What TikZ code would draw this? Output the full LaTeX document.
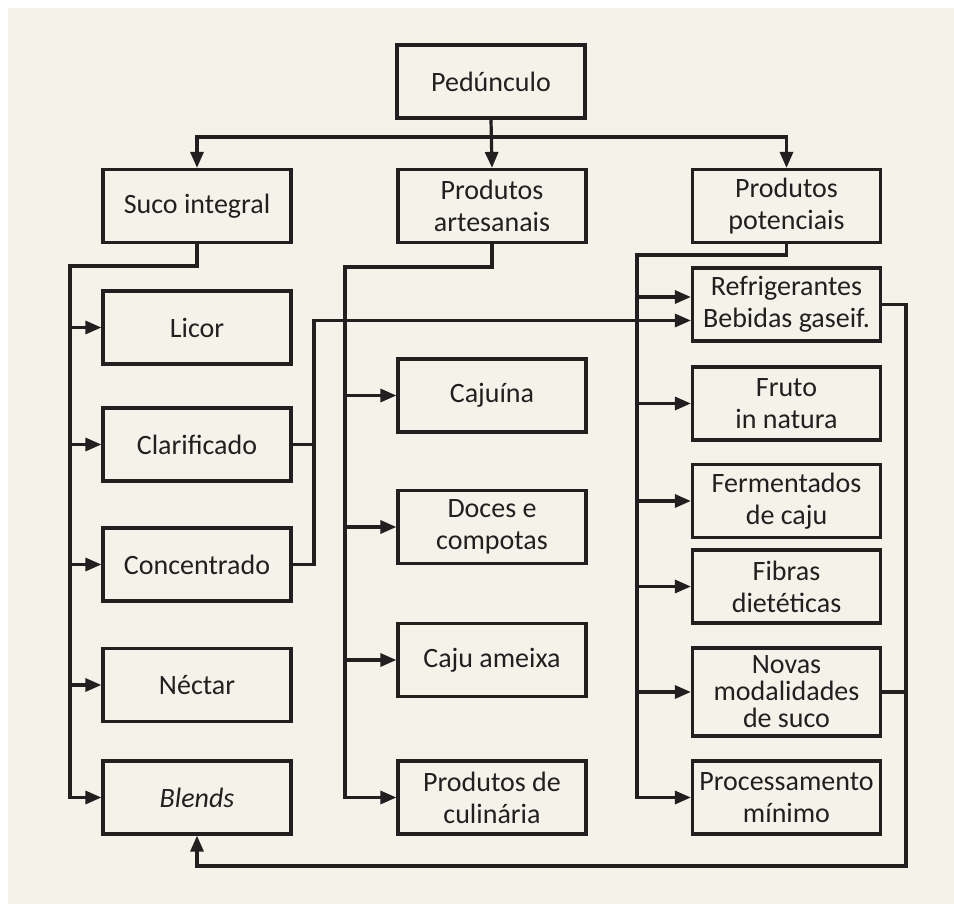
\documentclass[tikz,border=0pt]{standalone}
\usepackage{fontspec}
\setmainfont{Carlito}
\usetikzlibrary{arrows.meta,calc}
\definecolor{bg}{HTML}{F5F2EA}
\definecolor{ink}{HTML}{231F20}
\begin{document}
\begin{tikzpicture}[x=1pt,y=-1pt,
  box/.style={draw=ink,line width=3.2pt,fill=bg,minimum width=188pt,minimum height=73pt,inner sep=0pt,align=center,text=ink,font=\fontsize{28}{32}\selectfont},
  ln/.style={draw=ink,line width=3.2pt},
  arr/.style={ln,-{Triangle[length=16pt,width=13pt]}}]
\useasboundingbox (0,0) rectangle (954,904);
\fill[white] (0,0) rectangle (954,904);
\fill[bg] (8,8) rectangle (954,904);
% top
\node[box] (ped) at (491,81.5) {Pedúnculo};
\node[box] (suco) at (197,206) {Suco integral};
\node[box] (artes) at (492,206) {Produtos\\artesanais};
\node[box] (pot) at (786.5,206) {Produtos\\potenciais};
% left column
\node[box] (licor) at (197,327.5) {Licor};
\node[box] (clar) at (197,444.5) {Clarificado};
\node[box] (conc) at (197,564.5) {Concentrado};
\node[box] (nect) at (197,685) {Néctar};
\node[box] (blends) at (197,797.5) {\itshape Blends};
% middle column
\node[box] (caju) at (492,395.5) {Cajuína};
\node[box] (doces) at (492,527) {Doces e\\compotas};
\node[box] (ameixa) at (492,660) {Caju ameixa};
\node[box] (culin) at (492,797.5) {Produtos de\\culinária};
% right column
\node[box] (refr) at (786.5,304.5) {Refrigerantes\\Bebidas gaseif.};
\node[box] (fruto) at (786.5,403.5) {Fruto\\in natura};
\node[box] (ferm) at (786.5,501) {Fermentados\\de caju};
\node[box] (fibr) at (786.5,586.5) {Fibras\\dietéticas};
\node[box,minimum height=88pt,font=\fontsize{28}{27}\selectfont] (novas) at (786.5,692) {Novas\\modalidades\\de suco};
\node[box] (proc) at (786.5,797.5) {Processamento\\mínimo};
% coordinates
\coordinate (hb) at (0,137);
\coordinate (busL) at (70,266);
\coordinate (busM) at (345,267);
\coordinate (busR) at (637,255);
\coordinate (cj) at (314,0);
\coordinate (rc) at (906,0);
\coordinate (bot) at (906,866);
\coordinate (r1) at ($(refr.west)+(0,-7.5)$);
\coordinate (r2) at ($(refr.west)+(0,16)$);
% top connectors
\draw[arr] (ped.south) -- (artes.north);
\draw[arr] (ped.south |- hb) -| (suco.north);
\draw[arr] (ped.south |- hb) -| (pot.north);
% left bus
\draw[arr] (suco.south) |- (busL) |- (blends);
\draw[arr] (busL |- licor) -- (licor);
\draw[arr] (busL |- clar) -- (clar);
\draw[arr] (busL |- conc) -- (conc);
\draw[arr] (busL |- nect) -- (nect);
% middle bus
\draw[arr] (artes.south) |- (busM) |- (culin);
\draw[arr] (busM |- caju) -- (caju);
\draw[arr] (busM |- doces) -- (doces);
\draw[arr] (busM |- ameixa) -- (ameixa);
% right bus
\draw[arr] (pot.south) |- (busR) |- (proc);
\draw[arr] (busR |- r1) -- (r1);
\draw[arr] (busR |- fruto) -- (fruto);
\draw[arr] (busR |- ferm) -- (ferm);
\draw[arr] (busR |- fibr) -- (fibr);
\draw[arr] (busR |- novas) -- (novas);
% clarificado / concentrado to refrigerantes
\draw[ln] (clar.east) -- (clar.east -| cj);
\draw[arr] (conc.east) -| (cj |- r2) -- (r2);
% right loop to blends
\draw[ln] (novas.east) -- (novas.east -| rc);
\draw[arr] (refr.east) -| (bot) -| (blends.south);
\end{tikzpicture}
\end{document}
